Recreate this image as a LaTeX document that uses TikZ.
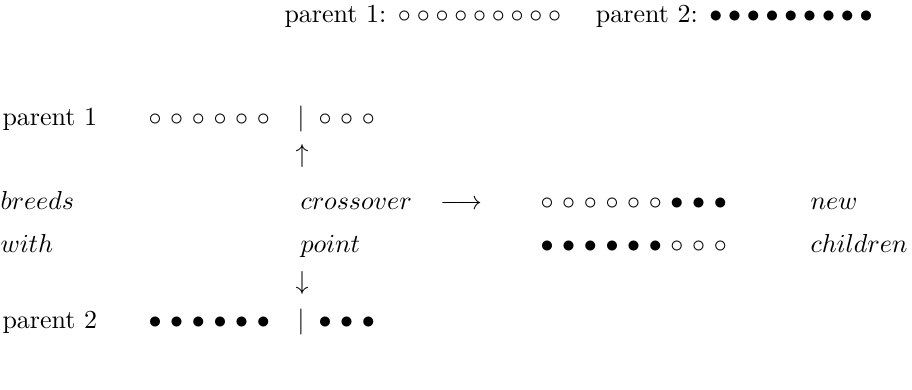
\documentclass[tikz,border=0pt]{standalone}
\newcommand{\wo}{{\circ}}
\newcommand{\bo}{{\bullet}}
\newcommand{\gsp}{\mskip\medmuskip}
\tikzset{
  lbl/.style={inner sep=0pt, anchor=base west},
  glyph/.style={inner sep=0pt, anchor=base},
}
\begin{document}
\begin{tikzpicture}[x=0.3846pt, y=-0.3846pt]
\useasboundingbox (0,0) rectangle (912,389);
% top line
\node[lbl] (top) at (284,22) {parent 1: $\wo\gsp\wo\gsp\wo\gsp\wo\gsp\wo\gsp\wo\gsp\wo\gsp\wo\gsp\wo$\quad\ parent 2: $\bo\gsp\bo\gsp\bo\gsp\bo\gsp\bo\gsp\bo\gsp\bo\gsp\bo\gsp\bo$};
% row parent 1
\node[lbl] (p1) at (2,125) {parent 1};
\node[lbl] (p1a) at (148,125) {$\wo\ \wo\ \wo\ \wo\ \wo\ \wo$};
\node[glyph] (p1bar) at (301,125) {$|$};
\node[lbl] (p1b) at (318,125) {$\wo\ \wo\ \wo$};
\node[glyph] (up) at (302,162) {$\uparrow$};
% crossover row
\node[lbl] (breeds) at (0,209) {$breeds$};
\node[lbl] (cross) at (300,209) {$crossover$};
\node[glyph] (arr) at (461,209) {$\longrightarrow$};
\node[lbl] (c1) at (540,209) {$\wo\ \wo\ \wo\ \wo\ \wo\ \wo\ \bo\ \bo\ \bo$};
\node[lbl] (new) at (810,209) {$new$};
% point row
\node[lbl] (with) at (0,252) {$with$};
\node[lbl] (point) at (300,252) {$point$};
\node[lbl] (c2) at (540,252) {$\bo\ \bo\ \bo\ \bo\ \bo\ \bo\ \wo\ \wo\ \wo$};
\node[lbl] (children) at (810,252) {$children$};
\node[glyph] (down) at (302,289) {$\downarrow$};
% row parent 2
\node[lbl] (p2) at (2,328) {parent 2};
\node[lbl] (p2a) at (148,328) {$\bo\ \bo\ \bo\ \bo\ \bo\ \bo$};
\node[glyph] (p2bar) at (301,328) {$|$};
\node[lbl] (p2b) at (318,328) {$\bo\ \bo\ \bo$};
\end{tikzpicture}
\end{document}
